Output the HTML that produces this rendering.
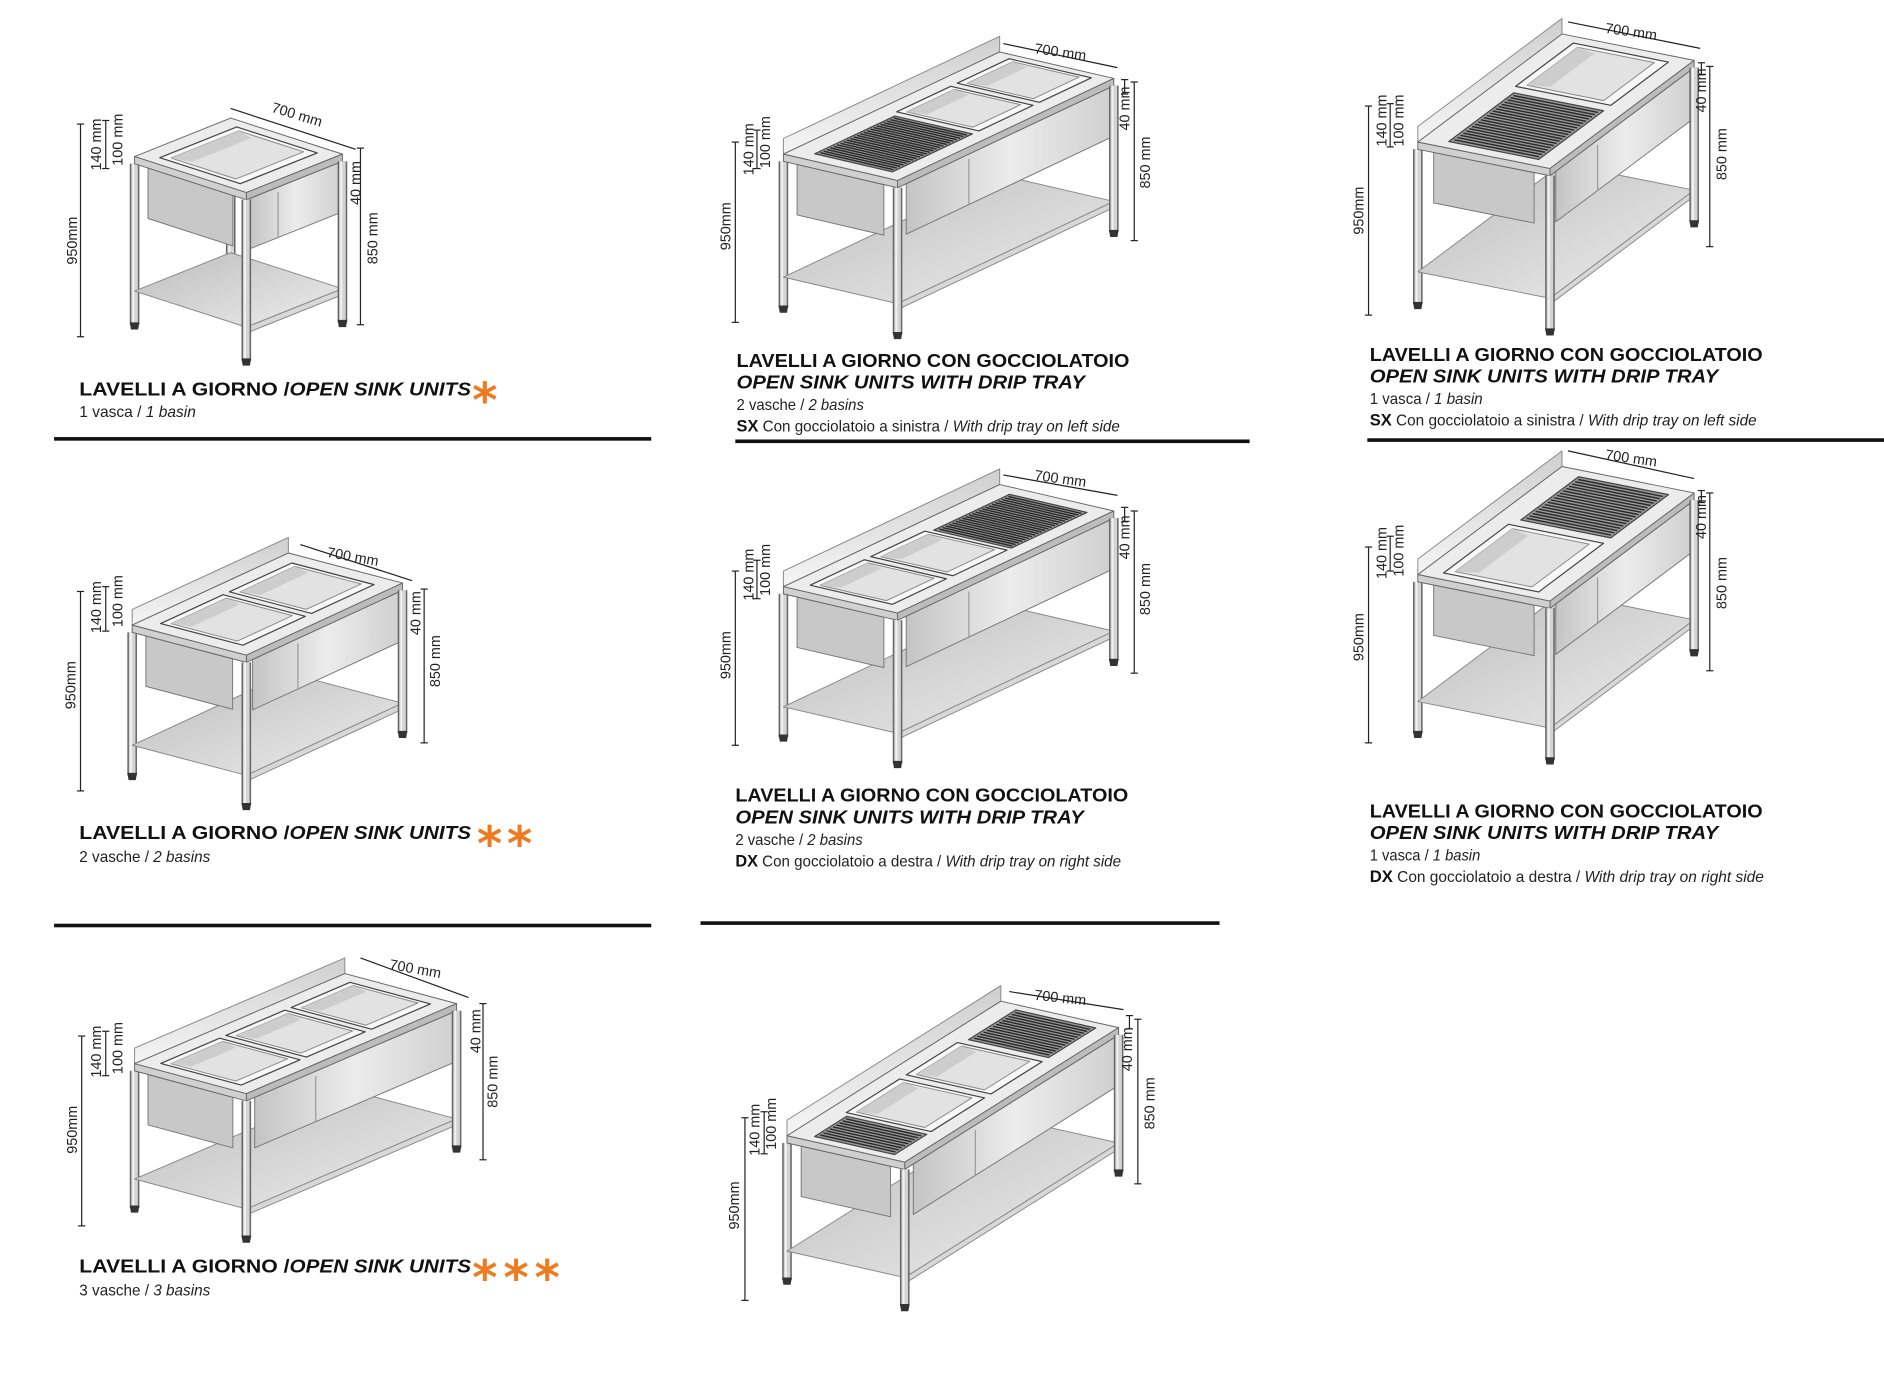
<!DOCTYPE html>
<html><head><meta charset="utf-8">
<style>
html,body{margin:0;padding:0;background:#fff;}
svg{display:block;}
.h{font-family:"Liberation Sans",sans-serif;font-weight:bold;font-size:15px;fill:#111;}
.hi{font-family:"Liberation Sans",sans-serif;font-weight:bold;font-style:italic;font-size:15px;fill:#111;}
.s{font-family:"Liberation Sans",sans-serif;font-size:13px;fill:#222;}
.si{font-style:italic;}
.sb{font-weight:bold;font-size:14px;fill:#111;}
.d{font-family:"Liberation Sans",sans-serif;font-size:12px;fill:#222;}
.ast{font-family:"DejaVu Sans",sans-serif;font-weight:bold;fill:#f07a1e;font-size:40px;}
</style></head>
<body>
<svg id="sv" width="1884" height="1380" viewBox="0 0 1568 1148" xmlns="http://www.w3.org/2000/svg">
<defs>
<linearGradient id="ap" x1="0" y1="0" x2="1" y2="0"><stop offset="0" stop-color="#c4c4c4"/><stop offset="0.5" stop-color="#ececec"/><stop offset="1" stop-color="#cfcfcf"/></linearGradient>
<linearGradient id="sh" x1="0" y1="0" x2="1" y2="1"><stop offset="0" stop-color="#bdbdbd"/><stop offset="1" stop-color="#ededed"/></linearGradient>
<linearGradient id="bs" x1="0" y1="0" x2="0" y2="1"><stop offset="0" stop-color="#cfcfcf"/><stop offset="1" stop-color="#f5f5f5"/></linearGradient>
</defs>
<g id="shapes"></g>

<rect x="45" y="363.5" width="497" height="3" fill="#111"/>
<rect x="612" y="365.5" width="428" height="3" fill="#111"/>
<rect x="1138" y="364.5" width="430" height="3" fill="#111"/>
<rect x="45" y="768.5" width="497" height="3" fill="#111"/>
<rect x="583" y="766.5" width="432" height="3" fill="#111"/>

<text class="h" x="66" y="329" textLength="175" lengthAdjust="spacingAndGlyphs">LAVELLI A GIORNO /</text>
<text class="hi" x="241" y="329" textLength="151" lengthAdjust="spacingAndGlyphs"> OPEN SINK UNITS</text>
<text class="ast" x="393" y="347">*</text>
<text class="s" x="66" y="347" textLength="97" lengthAdjust="spacingAndGlyphs">1 vasca / <tspan class="si">1 basin</tspan></text>

<text class="h" x="613" y="305" textLength="327" lengthAdjust="spacingAndGlyphs">LAVELLI A GIORNO CON GOCCIOLATOIO</text>
<text class="hi" x="613" y="323" textLength="290" lengthAdjust="spacingAndGlyphs">OPEN SINK UNITS WITH DRIP TRAY</text>
<text class="s" x="613" y="341" textLength="106" lengthAdjust="spacingAndGlyphs">2 vasche / <tspan class="si">2 basins</tspan></text>
<text class="s" x="613" y="359" textLength="319" lengthAdjust="spacingAndGlyphs"><tspan class="sb">SX</tspan> Con gocciolatoio a sinistra / <tspan class="si">With drip tray on left side</tspan></text>

<text class="h" x="1140" y="300" textLength="327" lengthAdjust="spacingAndGlyphs">LAVELLI A GIORNO CON GOCCIOLATOIO</text>
<text class="hi" x="1140" y="318" textLength="290" lengthAdjust="spacingAndGlyphs">OPEN SINK UNITS WITH DRIP TRAY</text>
<text class="s" x="1140" y="336" textLength="94" lengthAdjust="spacingAndGlyphs">1 vasca / <tspan class="si">1 basin</tspan></text>
<text class="s" x="1140" y="354" textLength="322" lengthAdjust="spacingAndGlyphs"><tspan class="sb">SX</tspan> Con gocciolatoio a sinistra / <tspan class="si">With drip tray on left side</tspan></text>

<text class="h" x="66" y="698" textLength="175" lengthAdjust="spacingAndGlyphs">LAVELLI A GIORNO /</text>
<text class="hi" x="241" y="698" textLength="151" lengthAdjust="spacingAndGlyphs"> OPEN SINK UNITS</text>
<text class="ast" x="397" y="716">*</text><text class="ast" x="422" y="716">*</text>
<text class="s" x="66" y="717" textLength="109" lengthAdjust="spacingAndGlyphs">2 vasche / <tspan class="si">2 basins</tspan></text>

<text class="h" x="612" y="667" textLength="327" lengthAdjust="spacingAndGlyphs">LAVELLI A GIORNO CON GOCCIOLATOIO</text>
<text class="hi" x="612" y="685" textLength="290" lengthAdjust="spacingAndGlyphs">OPEN SINK UNITS WITH DRIP TRAY</text>
<text class="s" x="612" y="703" textLength="106" lengthAdjust="spacingAndGlyphs">2 vasche / <tspan class="si">2 basins</tspan></text>
<text class="s" x="612" y="721" textLength="321" lengthAdjust="spacingAndGlyphs"><tspan class="sb">DX</tspan> Con gocciolatoio a destra / <tspan class="si">With drip tray on right side</tspan></text>

<text class="h" x="1140" y="680" textLength="327" lengthAdjust="spacingAndGlyphs">LAVELLI A GIORNO CON GOCCIOLATOIO</text>
<text class="hi" x="1140" y="698" textLength="290" lengthAdjust="spacingAndGlyphs">OPEN SINK UNITS WITH DRIP TRAY</text>
<text class="s" x="1140" y="716" textLength="92" lengthAdjust="spacingAndGlyphs">1 vasca / <tspan class="si">1 basin</tspan></text>
<text class="s" x="1140" y="734" textLength="328" lengthAdjust="spacingAndGlyphs"><tspan class="sb">DX</tspan> Con gocciolatoio a destra  / <tspan class="si">With drip tray on right side</tspan></text>

<text class="h" x="66" y="1059" textLength="175" lengthAdjust="spacingAndGlyphs">LAVELLI A GIORNO /</text>
<text class="hi" x="241" y="1059" textLength="151" lengthAdjust="spacingAndGlyphs"> OPEN SINK UNITS</text>
<text class="ast" x="393" y="1077">*</text><text class="ast" x="419" y="1077">*</text><text class="ast" x="445" y="1077">*</text>
<text class="s" x="66" y="1078" textLength="109" lengthAdjust="spacingAndGlyphs">3 vasche / <tspan class="si">3 basins</tspan></text>

<g class="d">
<text class="d" transform="translate(64,200) rotate(-90)" text-anchor="middle">950mm</text>
<text class="d" transform="translate(84,120) rotate(-90)" text-anchor="middle">140 mm</text>
<text class="d" transform="translate(102,116) rotate(-90)" text-anchor="middle">100 mm</text>
<text class="d" transform="translate(300,152) rotate(-90)" text-anchor="middle">40 mm</text>
<text class="d" transform="translate(314,198) rotate(-90)" text-anchor="middle">850 mm</text>
<text class="d" transform="translate(246,99) rotate(17)" text-anchor="middle">700 mm</text>
<text class="d" transform="translate(608,188) rotate(-90)" text-anchor="middle">950mm</text>
<text class="d" transform="translate(627,124) rotate(-90)" text-anchor="middle">140 mm</text>
<text class="d" transform="translate(641,118) rotate(-90)" text-anchor="middle">100 mm</text>
<text class="d" transform="translate(940,90) rotate(-90)" text-anchor="middle">40 mm</text>
<text class="d" transform="translate(957,135) rotate(-90)" text-anchor="middle">850 mm</text>
<text class="d" transform="translate(882,47) rotate(8)" text-anchor="middle">700 mm</text>
<text class="d" transform="translate(1135,175) rotate(-90)" text-anchor="middle">950mm</text>
<text class="d" transform="translate(1154,100) rotate(-90)" text-anchor="middle">140 mm</text>
<text class="d" transform="translate(1168,100) rotate(-90)" text-anchor="middle">100 mm</text>
<text class="d" transform="translate(1420,75) rotate(-90)" text-anchor="middle">40 mm</text>
<text class="d" transform="translate(1437,128) rotate(-90)" text-anchor="middle">850 mm</text>
<text class="d" transform="translate(1357,30) rotate(8)" text-anchor="middle">700 mm</text>
<text class="d" transform="translate(63,570) rotate(-90)" text-anchor="middle">950mm</text>
<text class="d" transform="translate(84,505) rotate(-90)" text-anchor="middle">140 mm</text>
<text class="d" transform="translate(102,500) rotate(-90)" text-anchor="middle">100 mm</text>
<text class="d" transform="translate(350,510) rotate(-90)" text-anchor="middle">40 mm</text>
<text class="d" transform="translate(366,550) rotate(-90)" text-anchor="middle">850 mm</text>
<text class="d" transform="translate(293,467) rotate(10)" text-anchor="middle">700 mm</text>
<text class="d" transform="translate(608,545) rotate(-90)" text-anchor="middle">950mm</text>
<text class="d" transform="translate(627,478) rotate(-90)" text-anchor="middle">140 mm</text>
<text class="d" transform="translate(641,474) rotate(-90)" text-anchor="middle">100 mm</text>
<text class="d" transform="translate(940,447) rotate(-90)" text-anchor="middle">40 mm</text>
<text class="d" transform="translate(957,490) rotate(-90)" text-anchor="middle">850 mm</text>
<text class="d" transform="translate(882,402) rotate(8)" text-anchor="middle">700 mm</text>
<text class="d" transform="translate(1135,530) rotate(-90)" text-anchor="middle">950mm</text>
<text class="d" transform="translate(1154,460) rotate(-90)" text-anchor="middle">140 mm</text>
<text class="d" transform="translate(1168,458) rotate(-90)" text-anchor="middle">100 mm</text>
<text class="d" transform="translate(1420,430) rotate(-90)" text-anchor="middle">40 mm</text>
<text class="d" transform="translate(1437,485) rotate(-90)" text-anchor="middle">850 mm</text>
<text class="d" transform="translate(1357,385) rotate(8)" text-anchor="middle">700 mm</text>
<text class="d" transform="translate(64,940) rotate(-90)" text-anchor="middle">950mm</text>
<text class="d" transform="translate(84,875) rotate(-90)" text-anchor="middle">140 mm</text>
<text class="d" transform="translate(102,872) rotate(-90)" text-anchor="middle">100 mm</text>
<text class="d" transform="translate(400,858) rotate(-90)" text-anchor="middle">40 mm</text>
<text class="d" transform="translate(414,900) rotate(-90)" text-anchor="middle">850 mm</text>
<text class="d" transform="translate(345,810) rotate(10)" text-anchor="middle">700 mm</text>
<text class="d" transform="translate(615,1003) rotate(-90)" text-anchor="middle">950mm</text>
<text class="d" transform="translate(632,940) rotate(-90)" text-anchor="middle">140 mm</text>
<text class="d" transform="translate(646,935) rotate(-90)" text-anchor="middle">100 mm</text>
<text class="d" transform="translate(942,873) rotate(-90)" text-anchor="middle">40 mm</text>
<text class="d" transform="translate(961,918) rotate(-90)" text-anchor="middle">850 mm</text>
<text class="d" transform="translate(882,834) rotate(6)" text-anchor="middle">700 mm</text>
</g>
</svg>
<script>
(function(){
var NS="http://www.w3.org/2000/svg",G=document.getElementById("shapes");
function el(t,a){var e=document.createElementNS(NS,t);for(var k in a)e.setAttribute(k,a[k]);G.appendChild(e);return e;}
function poly(pts,fill,stroke,sw){el("polygon",{points:pts.map(function(p){return p[0].toFixed(1)+","+p[1].toFixed(1)}).join(" "),fill:fill,stroke:stroke||"none","stroke-width":sw||0.8,"stroke-linejoin":"round"});}
function line(a,b,c,w){el("line",{x1:a[0],y1:a[1],x2:b[0],y2:b[1],stroke:c,"stroke-width":w,"stroke-linecap":"butt"});}
function unit(B,L,D,h,basins,trays,splash){
 function p(u,v,z){return [B[0]+u*L[0]+v*D[0],B[1]+u*L[1]+v*D[1]+z];}
 function leg(u,v){var a=p(u,v,6),b=p(u,v,h);line(a,b,"#666",8);line(a,b,"#d4d4d4",5.5);line([a[0]-1,a[1]],[b[0]-1,b[1]],"#f2f2f2",1.5);poly([[b[0]-4,b[1]-2],[b[0]+4,b[1]-2],[b[0]+3,b[1]+4],[b[0]-3,b[1]+4]],"#333");}
 var zs=h*0.8;
 leg(0,0);leg(1,0);
 poly([p(0,0,zs),p(1,0,zs),p(1,1,zs),p(0,1,zs)],"url(#sh)","#888");
 poly([p(0,1,zs),p(1,1,zs),p(1,1,zs+5),p(0,1,zs+5)],"#d8d8d8","#888");
 if(splash){poly([p(0,0,0),p(1,0,0),p(1,0,-13),p(0,0,-13)],"url(#bs)","#888");}
 poly([p(0,0.12,6),p(0,0.88,6),p(0,0.88,48),p(0,0.12,48)],"#c8c8c8","#777");
 poly([p(0.04,1,6),p(1,1,6),p(1,1,48),p(0.04,1,48)],"url(#ap)","#777");
 line(p(0.33,1,10),p(0.33,1,48),"#999",1);
 poly([p(0,0,0),p(1,0,0),p(1,1,0),p(0,1,0)],"#ececec","#666");
 poly([p(0,1,0),p(1,1,0),p(1,1,6),p(0,1,6)],"#bcbcbc","#666");
 poly([p(0,0,0),p(0,1,0),p(0,1,6),p(0,0,6)],"#d0d0d0","#666");
 basins.forEach(function(r){var a=r[0],b=r[1];
  poly([p(a,0.14,0),p(b,0.14,0),p(b,0.86,0),p(a,0.86,0)],"#f7f7f7","#444",1);
  var i=(b-a)*0.06;
  poly([p(a+i,0.2,0),p(b-i,0.2,0),p(b-i,0.78,0),p(a+i,0.78,0)],"#e2e2e2","#888",0.8);
  poly([p(a+i,0.2,0),p(b-i,0.2,0),p(b-i*2,0.35,0),p(a+i*2,0.35,0)],"#cdcdcd");
 });
 trays.forEach(function(r){var a=r[0],b=r[1];
  poly([p(a,0.18,0),p(b,0.18,0),p(b,0.86,0),p(a,0.86,0)],"#9a9a9a","#444",1);
  var len=Math.hypot(L[0],L[1])*(b-a),n=Math.floor(len/3);
  for(var k=1;k<n;k++){var u=a+(b-a)*k/n;line(p(u,0.2,0),p(u,0.84,0),"#2a2a2a",1.2);}
 });
 leg(0,1);leg(1,1);
}
unit([112,130],[80,-32],[93,30],140,[[0.1,0.9]],[],false);
unit([652,128],[180,-85],[95,22],128,[[0.45,0.7],[0.73,0.97]],[[0.05,0.42]],true);
unit([1180,118],[120,-90],[110,22],135,[[0.55,0.95]],[[0.05,0.5]],true);
unit([110,520],[130,-60],[95,25],125,[[0.08,0.48],[0.52,0.92]],[],true);
unit([652,488],[180,-85],[95,22],125,[[0.05,0.3],[0.33,0.58]],[[0.6,0.95]],true);
unit([1180,478],[120,-90],[110,22],132,[[0.05,0.5]],[[0.55,0.95]],true);
unit([112,885],[175,-75],[93,25],120,[[0.05,0.33],[0.36,0.64],[0.67,0.95]],[],true);
unit([655,945],[178,-112],[98,22],120,[[0.2,0.45],[0.48,0.72]],[[0.03,0.18],[0.75,0.97]],true);
function dim(x,y1,y2){line([x,y1],[x,y2],"#222",1);line([x-3,y1],[x+3,y1],"#222",1);line([x-3,y2],[x+3,y2],"#222",1);}
[[67,103,280],[88,100,140],[300,123,270],
 [612,118,268],[630,108,140],[944,68,200],[936,66,78],
 [1139,88,262],[1157,86,122],[1423,55,205],[1416,52,62],
 [67,492,658],[88,488,525],[353,490,618],
 [612,475,620],[630,466,498],[944,425,560],[936,422,434],
 [1139,455,618],[1157,446,475],[1423,410,558],[1416,408,418],
 [68,862,1020],[88,858,895],[402,835,965],
 [620,930,1082],[636,925,960],[947,848,985],[940,845,856]].forEach(function(d){dim(d[0],d[1],d[2]);});
function dl(a,b){line(a,b,"#222",1);}
dl([192,90],[296,124]);dl([835,36],[930,56]);dl([1305,18],[1415,40]);
dl([250,453],[343,483]);dl([835,395],[930,412]);dl([1305,375],[1410,398]);
dl([300,797],[390,830]);dl([840,825],[935,840]);
})();
</script>
</body></html>
